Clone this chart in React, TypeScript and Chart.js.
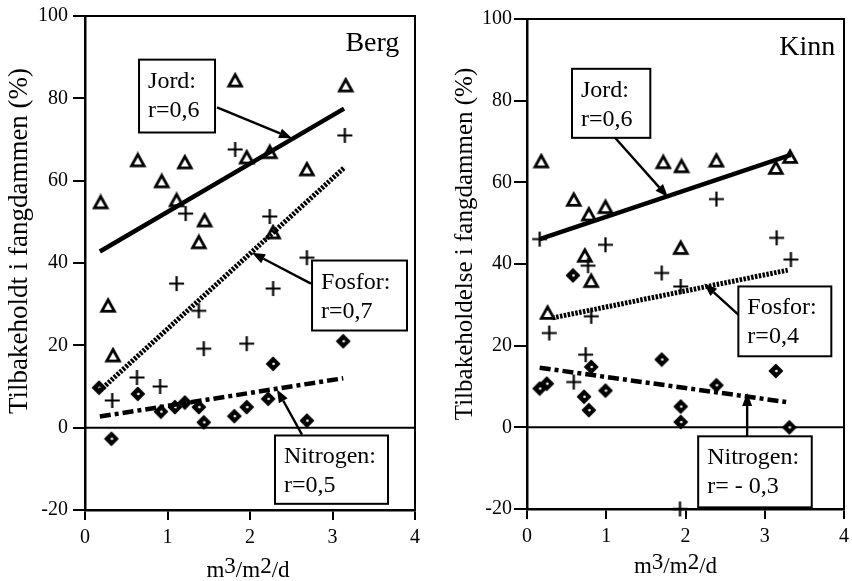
import React, { useEffect, useRef } from "react";
import { Chart, registerables } from "chart.js";
Chart.register(...registerables);

// ---------- Berg (left panel) ----------
const bergJordX = [0.19, 0.28, 0.34, 0.64, 0.93, 1.11, 1.21, 1.45, 1.38, 1.82, 1.96, 2.24, 2.28, 2.69, 3.16];
const bergJordY = [54.7, 29.6, 17.5, 64.9, 59.8, 55.2, 64.4, 50.3, 45.0, 84.3, 65.6, 66.9, 47.4, 62.7, 83.1];
const bergFosforX = [3.15, 1.82, 1.22, 2.24, 2.69, 1.11, 2.28, 1.38, 1.44, 1.96, 0.63, 0.91, 0.33];
const bergFosforY = [71.0, 67.6, 52.0, 51.3, 41.3, 35.0, 33.8, 28.4, 19.2, 20.4, 12.2, 10.0, 6.6];
const bergNitrogenX = [0.17, 0.32, 0.64, 0.92, 1.09, 1.21, 1.38, 1.44, 1.81, 1.96, 2.22, 2.28, 2.69, 3.13];
const bergNitrogenY = [9.7, -2.7, 8.2, 3.9, 5.0, 6.1, 5.0, 1.3, 2.8, 5.0, 7.0, 15.5, 1.7, 21.0];
const bergJordLineX = [0.18, 3.14];
const bergJordLineY = [42.8, 77.5];
const bergFosforLineX = [0.18, 3.15];
const bergFosforLineY = [9.0, 63.3];
const bergNitrogenLineX = [0.18, 3.13];
const bergNitrogenLineY = [2.7, 12.0];

// ---------- Kinn (right panel) ----------
const kinnJordX = [0.18, 0.59, 0.78, 0.99, 0.73, 0.81, 1.72, 1.95, 1.94, 2.39, 3.14, 3.32, 0.26];
const kinnJordY = [65.1, 55.7, 52.1, 53.9, 42.0, 35.8, 64.9, 63.9, 43.9, 65.3, 63.5, 66.2, 28.0];
const kinnFosforX = [0.16, 0.99, 0.77, 1.70, 1.94, 2.39, 3.15, 3.33, 0.28, 0.81, 0.74, 0.59, 1.93];
const kinnFosforY = [46.1, 44.7, 39.6, 37.8, 34.5, 55.9, 46.4, 41.1, 23.1, 27.2, 17.8, 11.1, -20];
const kinnNitrogenX = [0.58, 0.16, 0.25, 0.81, 0.72, 0.78, 0.99, 1.70, 1.94, 1.94, 2.39, 3.14, 3.31];
const kinnNitrogenY = [37.2, 9.5, 10.7, 14.8, 7.5, 4.2, 9.0, 16.6, 5.1, 1.3, 10.3, 13.8, 0.0];
const kinnJordLineX = [0.16, 3.33];
const kinnJordLineY = [46.1, 66.7];
const kinnFosforLineX = [0.32, 3.29];
const kinnFosforLineY = [26.8, 38.5];
const kinnNitrogenLineX = [0.16, 3.27];
const kinnNitrogenLineY = [14.6, 6.2];

// ---------- ticks / texts ----------
const xTicks = [0, 1, 2, 3, 4];
const yTicks = [-20, 0, 20, 40, 60, 80, 100];
const xTitle = ["m", "3", "/m", "2", "/d"];
const bergYTitle = "Tilbakeholdt i fangdammen (%)";
const kinnYTitle = "Tilbakeholdelse i fangdammen (%)";

type Note = { lines: string[]; box: number[]; from: number[]; to: number[] };
const bergNotes: Note[] = [
  { lines: ["Jord:", "r=0,6"], box: [0.655, 89.4, 1.576, 71.7], from: [1.6, 77.8], to: [2.51, 70.3] },
  { lines: ["Fosfor:", "r=0,7"], box: [2.752, 40.6, 3.903, 23.6], from: [2.739, 35.0], to: [2.024, 42.5] },
  { lines: ["Nitrogen:", "r=0,5"], box: [2.303, -1.9, 3.673, -18.5], from: [2.63, -1.7], to: [2.327, 9.3] },
];
const kinnNotes: Note[] = [
  { lines: ["Jord:", "r=0,6"], box: [0.568, 87.8, 1.556, 70.9], from: [1.111, 70.9], to: [1.778, 56.4] },
  { lines: ["Fosfor:", "r=0,4"], box: [2.667, 34.5, 3.84, 17.4], from: [2.667, 27.6], to: [2.235, 35.2] },
  { lines: ["Nitrogen:", "r= - 0,3"], box: [2.16, -2.2, 3.593, -19.6], from: [2.778, -2.2], to: [2.778, 8.4] },
];

const SERIF = "'Liberation Serif', 'Times New Roman', serif";

function pts(xs: number[], ys: number[]) {
  return xs.map((x, i) => ({ x, y: ys[i] }));
}

function makeTriangle() {
  const c = document.createElement("canvas");
  c.width = 18; c.height = 18;
  const g = c.getContext("2d")!;
  g.lineWidth = 2.8; g.strokeStyle = "#000"; g.lineJoin = "miter";
  g.beginPath(); g.moveTo(9, 3); g.lineTo(15.3, 14.3); g.lineTo(2.7, 14.3); g.closePath(); g.stroke();
  return c;
}
function makePlus() {
  const c = document.createElement("canvas");
  c.width = 17; c.height = 17;
  const g = c.getContext("2d")!;
  g.lineWidth = 2.2; g.strokeStyle = "#000";
  g.beginPath(); g.moveTo(1, 8.5); g.lineTo(16, 8.5); g.moveTo(8.5, 1); g.lineTo(8.5, 16); g.stroke();
  return c;
}
function makeDiamond() {
  const c = document.createElement("canvas");
  c.width = 16; c.height = 16;
  const g = c.getContext("2d")!;
  g.fillStyle = "#000"; g.strokeStyle = "#000"; g.lineWidth = 1.5; g.lineJoin = "round";
  g.beginPath(); g.moveTo(8, 1.5); g.lineTo(14.5, 8); g.lineTo(8, 14.5); g.lineTo(1.5, 8); g.closePath();
  g.fill(); g.stroke();
  g.fillStyle = "#fff"; g.beginPath(); g.arc(8.5, 8, 1.3, 0, Math.PI * 2); g.fill();
  return c;
}

type PanelProps = {
  left: number; width: number; height: number;
  areaLeft: number; areaTop: number; areaBottom: number; areaRight: number;
  tickLen: number; tickPad: number;
  jordX: number[]; jordY: number[]; fosforX: number[]; fosforY: number[]; nitX: number[]; nitY: number[];
  jlX: number[]; jlY: number[]; flX: number[]; flY: number[]; nlX: number[]; nlY: number[];
  notes: Note[]; name: string; namePos: number[]; yTitle: string; yTitleSize: number;
  yTitleX: number; yTitleY: number; xTitleOffset: number; xTitleBase: number;
};

function Panel(p: PanelProps) {
  const ref = useRef<HTMLCanvasElement | null>(null);
  useEffect(() => {
    const canvas = ref.current!;
    const tri = makeTriangle(), plus = makePlus(), dia = makeDiamond();

    const overlay = {
      id: "overlay",
      beforeDatasetsDraw(chart: any) {
        const { ctx, chartArea: a, scales } = chart;
        const y0 = scales.y.getPixelForValue(0);
        ctx.save();
        ctx.strokeStyle = "#000";
        ctx.lineWidth = 2;
        ctx.beginPath(); ctx.moveTo(a.left, y0); ctx.lineTo(a.right, y0); ctx.stroke();
        ctx.lineWidth = 2;
        ctx.strokeRect(a.left, a.top, a.right - a.left, a.bottom - a.top);
        ctx.restore();
      },
      afterDatasetsDraw(chart: any) {
        const { ctx, chartArea: a, scales } = chart;
        const sx = scales.x, sy = scales.y;
        ctx.save();
        ctx.fillStyle = "#000"; ctx.strokeStyle = "#000";
        // notes
        for (const n of p.notes) {
          const x1 = sx.getPixelForValue(n.box[0]), y1 = sy.getPixelForValue(n.box[1]);
          const x2 = sx.getPixelForValue(n.box[2]), y2 = sy.getPixelForValue(n.box[3]);
          ctx.fillStyle = "#fff";
          ctx.fillRect(x1, y1, x2 - x1, y2 - y1);
          ctx.lineWidth = 2; ctx.strokeStyle = "#000";
          ctx.strokeRect(x1, y1, x2 - x1, y2 - y1);
          ctx.fillStyle = "#000";
          ctx.font = `24px ${SERIF}`;
          ctx.textAlign = "left"; ctx.textBaseline = "alphabetic";
          n.lines.forEach((t, i) => ctx.fillText(t, x1 + 9, y1 + 28 + i * 29));
          const fx = sx.getPixelForValue(n.from[0]), fy = sy.getPixelForValue(n.from[1]);
          const tx = sx.getPixelForValue(n.to[0]), ty = sy.getPixelForValue(n.to[1]);
          const ang = Math.atan2(ty - fy, tx - fx);
          const hl = 13, hw = 5;
          const bx = tx - hl * Math.cos(ang), by = ty - hl * Math.sin(ang);
          ctx.lineWidth = 2.4;
          ctx.beginPath(); ctx.moveTo(fx, fy); ctx.lineTo(bx, by); ctx.stroke();
          ctx.beginPath();
          ctx.moveTo(tx, ty);
          ctx.lineTo(bx + hw * Math.sin(ang), by - hw * Math.cos(ang));
          ctx.lineTo(bx - hw * Math.sin(ang), by + hw * Math.cos(ang));
          ctx.closePath(); ctx.fill();
        }
        // panel name
        ctx.font = `28px ${SERIF}`;
        ctx.textAlign = "right"; ctx.textBaseline = "alphabetic";
        ctx.fillText(p.name, sx.getPixelForValue(p.namePos[0]), sy.getPixelForValue(p.namePos[1]));
        // y title
        ctx.save();
        ctx.font = `${p.yTitleSize}px ${SERIF}`;
        ctx.translate(p.yTitleX, p.yTitleY);
        ctx.rotate(-Math.PI / 2);
        ctx.textAlign = "center"; ctx.textBaseline = "middle";
        ctx.fillText(p.yTitle, 0, 0);
        ctx.restore();
        // x title with raised digits
        ctx.font = `23px ${SERIF}`;
        ctx.textAlign = "left"; ctx.textBaseline = "alphabetic";
        const total = xTitle.reduce((s, t) => s + ctx.measureText(t).width, 0);
        let cx = (a.left + a.right) / 2 + p.xTitleOffset - total / 2;
        xTitle.forEach((t, i) => {
          const raise = i % 2 === 1 ? 4 : 0;
          ctx.fillText(t, cx, p.xTitleBase - raise);
          cx += ctx.measureText(t).width;
        });
        ctx.restore();
      },
    };

    const lineDs = (xs: number[], ys: number[], w: number, dash: number[]) => ({
      type: "line" as const,
      data: pts(xs, ys),
      showLine: true,
      borderColor: "#000",
      borderWidth: w,
      borderDash: dash,
      borderCapStyle: "butt" as const,
      pointRadius: 0,
      fill: false,
      tension: 0,
      clip: false as any,
    });
    const ptDs = (xs: number[], ys: number[], style: HTMLCanvasElement) => ({
      type: "scatter" as const,
      data: pts(xs, ys),
      pointStyle: style,
      pointRadius: 7,
      clip: false as any,
    });

    const tickFont = { family: SERIF, size: 20 };
    const chart = new Chart(canvas, {
      type: "scatter",
      data: {
        datasets: [
          lineDs(p.jlX, p.jlY, 4.5, []),
          lineDs(p.flX, p.flY, 5, [2.5, 1.4]),
          lineDs(p.nlX, p.nlY, 4.5, [11, 4, 4, 4]),
          ptDs(p.jordX, p.jordY, tri),
          ptDs(p.fosforX, p.fosforY, plus),
          ptDs(p.nitX, p.nitY, dia),
        ] as any,
      },
      options: {
        responsive: false,
        animation: false,
        events: [],
        layout: { padding: { left: 0, top: p.areaTop, right: p.width - p.areaRight, bottom: 0 } },
        plugins: { legend: { display: false }, tooltip: { enabled: false } },
        scales: {
          x: {
            type: "linear",
            min: 0, max: 4,
            afterBuildTicks: (s: any) => { s.ticks = xTicks.map((v) => ({ value: v })); },
            ticks: { font: tickFont, color: "#000", padding: 6, maxRotation: 0, autoSkip: false },
            grid: { display: true, drawOnChartArea: false, drawTicks: true, tickLength: 10, color: "#000", lineWidth: 2 },
            border: { display: true, color: "#000", width: 2.5 },
            afterFit: (s: any) => { s.height = p.height - p.areaBottom; s.paddingLeft = 0; s.paddingRight = 0; },
          },
          y: {
            type: "linear",
            min: -20, max: 100,
            afterBuildTicks: (s: any) => { s.ticks = yTicks.map((v) => ({ value: v })); },
            ticks: { font: tickFont, color: "#000", padding: p.tickPad, autoSkip: false },
            grid: { display: true, drawOnChartArea: false, drawTicks: true, tickLength: p.tickLen, color: "#000", lineWidth: 2 },
            border: { display: true, color: "#000", width: 2.5 },
            afterFit: (s: any) => { s.width = p.areaLeft; s.paddingTop = 0; s.paddingBottom = 0; },
          },
        },
      } as any,
      plugins: [overlay],
    });
    return () => chart.destroy();
  }, []);
  return (
    <canvas
      ref={ref}
      width={p.width}
      height={p.height}
      style={{ position: "absolute", left: p.left, top: 0, width: p.width, height: p.height }}
    />
  );
}

export default function App() {
  return (
    <div style={{ position: "absolute", left: 0, top: 0, width: 852, height: 581, background: "#fff", overflow: "hidden" }}>
      <Panel
        left={0} width={430} height={581}
        areaLeft={85} areaTop={16} areaBottom={510} areaRight={415}
        tickLen={12} tickPad={5}
        jordX={bergJordX} jordY={bergJordY} fosforX={bergFosforX} fosforY={bergFosforY}
        nitX={bergNitrogenX} nitY={bergNitrogenY}
        jlX={bergJordLineX} jlY={bergJordLineY} flX={bergFosforLineX} flY={bergFosforLineY}
        nlX={bergNitrogenLineX} nlY={bergNitrogenLineY}
        notes={bergNotes} name="Berg" namePos={[3.81, 91.6]}
        yTitle={bergYTitle} yTitleSize={27} yTitleX={20} yTitleY={241}
        xTitleOffset={-2} xTitleBase={577}
      />
      <Panel
        left={430} width={422} height={581}
        areaLeft={97} areaTop={19} areaBottom={509} areaRight={421}
        tickLen={13} tickPad={2}
        jordX={kinnJordX} jordY={kinnJordY} fosforX={kinnFosforX} fosforY={kinnFosforY}
        nitX={kinnNitrogenX} nitY={kinnNitrogenY}
        jlX={kinnJordLineX} jlY={kinnJordLineY} flX={kinnFosforLineX} flY={kinnFosforLineY}
        nlX={kinnNitrogenLineX} nlY={kinnNitrogenLineY}
        notes={kinnNotes} name="Kinn" namePos={[3.89, 91.2]}
        yTitle={kinnYTitle} yTitleSize={25} yTitleX={35} yTitleY={244}
        xTitleOffset={-10} xTitleBase={573}
      />
    </div>
  );
}
